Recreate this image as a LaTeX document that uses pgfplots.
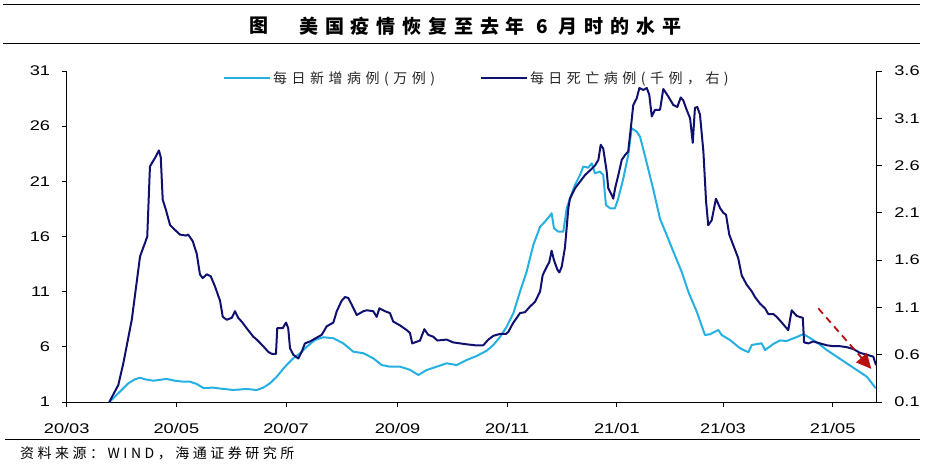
\documentclass[border=0pt]{standalone}
\usepackage{pgfplots}
\pgfplotsset{compat=1.18}
\usetikzlibrary{arrows.meta}
\usepackage{fontspec}
\setmainfont{Liberation Sans}
\newfontfamily\cjk[LetterSpace=25]{Noto Sans CJK SC}
\newfontfamily\cjkleg[LetterSpace=32]{Noto Sans CJK SC}
\newfontfamily\cjktitle[LetterSpace=36]{Noto Sans CJK SC}
\definecolor{lightb}{RGB}{38,176,226}
\definecolor{darkb}{RGB}{16,16,110}
\definecolor{arrred}{RGB}{185,15,15}
\begin{document}
\begin{tikzpicture}
\useasboundingbox (0pt,0pt) rectangle (929pt,475pt);
% title block
\draw[line width=1pt] (3pt,470pt) -- (920pt,470pt);
\draw[line width=1pt] (3pt,431pt) -- (920pt,431pt);
\node[font=\cjktitle\bfseries\fontsize{19}{21}\selectfont, anchor=west, inner sep=0pt] at (249pt,449pt) {图};
\node[font=\cjktitle\bfseries\fontsize{19}{21}\selectfont, anchor=west, inner sep=0pt] at (299pt,449pt) {美国疫情恢复至去年 6 月时的水平};
% source
\draw[line width=1pt] (5pt,36pt) -- (920pt,36pt);
\node[font=\cjk\fontsize{14}{16}\selectfont, anchor=west, inner sep=0pt] at (20pt,22pt) {资料来源：WIND，海通证券研究所};

\pgfplotsset{
  every axis/.append style={
    scale only axis, width=810pt, height=331pt,
    xmin=0, xmax=450.5,
    tick align=outside, major tick length=5pt,
    tick style={black, line width=0.8pt},
    axis line style={black, line width=0.8pt, -},
    tick label style={font=\fontsize{14}{16}\selectfont, xscale=1.3, text=black,
      /pgf/number format/assume math mode=true},
    legend image code/.code={\draw[#1] (0pt,0pt) -- (46pt,0pt);},
    legend style={draw=none, fill=none, inner sep=0pt, anchor=west,
      font=\cjkleg\fontsize{14}{16}\selectfont, text=black!85},
  }
}
\begin{axis}[
  at={(66.7pt,73pt)}, anchor=south west,
  ymin=1, ymax=31,
  axis x line*=bottom, axis y line*=left,
  xtick={0,61,122,184,245,306,365,426},
  xticklabels={20/03,20/05,20/07,20/09,20/11,21/01,21/03,21/05},
  ytick={1,6,11,16,21,26,31},
  yticklabel style={xshift=-5.4pt},
  xticklabel style={yshift=-13pt},
  legend style={at={(0.193,0.979)}},
]
\addplot[lightb, line width=2pt, line join=round] coordinates {
(23.7,1.0)(28.7,1.79)(34.3,2.70)(38.0,3.06)(40.8,3.20)(43.5,3.06)(48.2,2.93)(55.6,3.09)(60.2,2.93)(64.9,2.84)(68.6,2.84)(72.3,2.63)(76.0,2.27)(81.5,2.30)(85.3,2.22)(92.7,2.09)(100.1,2.18)(105.7,2.09)(109.3,2.30)(113.1,2.70)(116.8,3.29)(121.4,4.20)(126.0,4.96)(129.8,5.42)(133.5,6.01)(138.1,6.62)(142.7,6.87)(148.3,6.78)(153.8,6.32)(159.4,5.56)(165.0,5.42)(170.5,4.96)(175.2,4.35)(179.8,4.20)(185.4,4.20)(190.9,3.92)(195.6,3.45)(200.2,3.90)(205.8,4.20)(211.3,4.51)(216.9,4.35)(222.5,4.81)(228.0,5.17)(233.6,5.65)(237.3,6.17)(241.0,6.89)(244.7,7.83)(248.4,9.04)(252.1,11.0)(255.8,12.81)(259.5,15.23)(263.3,16.89)(266.0,17.35)(268.8,17.89)(269.7,18.11)(271.0,16.75)(273.4,16.44)(276.2,16.44)(278.1,18.56)(279.9,19.47)(282.7,20.67)(285.5,21.58)(287.3,22.33)(290.1,22.24)(292.0,22.64)(293.8,21.73)(296.6,21.88)(298.4,21.58)(299.9,18.86)(302.2,18.56)(304.9,18.56)(306.8,19.47)(309.6,21.28)(312.3,23.39)(314.2,25.81)(317.0,25.51)(318.9,25.03)(322.6,22.67)(326.3,20.22)(330.0,17.59)(333.7,16.14)(337.4,14.63)(342.0,12.81)(345.7,11.0)(350.4,9.19)(355.0,7.07)(357.8,7.14)(362.4,7.53)(364.3,7.07)(368.9,6.62)(374.5,5.87)(379.1,5.51)(381.0,6.17)(386.5,6.32)(388.4,5.71)(393.0,6.26)(396.7,6.58)(400.4,6.53)(406.0,6.89)(409.7,7.16)(413.4,6.80)(418.0,6.32)(422.7,5.71)(428.3,5.11)(433.8,4.51)(439.4,3.90)(445.0,3.29)(450.0,2.25)
};
\addlegendentry{每日新增病例(万例)}
\end{axis}
\begin{axis}[
  at={(66.7pt,73pt)}, anchor=south west,
  ymin=0.1, ymax=3.6,
  axis x line=none, axis y line*=right,
  ytick={0.1,0.6,1.1,1.6,2.1,2.6,3.1,3.6},
  yticklabel style={xshift=6.2pt, /pgf/number format/.cd, fixed, fixed zerofill, precision=1},
  legend style={at={(0.510,0.979)}},
]
\addplot[darkb, line width=2pt, line join=round] coordinates {
(23.7,0.10)(28.7,0.28)(31.5,0.51)(36.2,0.97)(40.8,1.64)(43.5,1.78)(44.8,1.85)(46.3,2.59)(47.8,2.64)(49.1,2.68)(51.3,2.76)(52.3,2.69)(53.4,2.24)(55.2,2.13)(57.5,1.97)(60.2,1.92)(63.0,1.87)(66.4,1.86)(67.6,1.87)(70.1,1.80)(72.3,1.67)(74.1,1.45)(75.6,1.41)(77.9,1.45)(80.1,1.43)(82.5,1.32)(85.3,1.17)(86.8,1.00)(89.0,0.97)(91.8,0.99)(93.6,1.06)(95.4,0.99)(97.3,0.95)(100.1,0.88)(103.8,0.79)(105.7,0.76)(109.3,0.69)(112.1,0.63)(114.0,0.61)(116.4,0.61)(117.1,0.88)(120.1,0.88)(122.0,0.94)(123.2,0.88)(124.2,0.67)(126.0,0.60)(128.8,0.56)(130.7,0.63)(132.5,0.72)(135.3,0.74)(138.1,0.77)(141.8,0.81)(144.6,0.90)(148.3,0.94)(150.2,1.06)(152.9,1.17)(154.8,1.21)(156.6,1.20)(158.5,1.13)(161.3,1.02)(165.0,1.06)(166.9,1.07)(170.5,1.06)(172.4,1.00)(173.9,1.09)(177.0,1.06)(179.8,1.04)(181.6,0.95)(185.4,0.91)(189.1,0.86)(190.9,0.83)(192.2,0.72)(196.5,0.75)(198.9,0.87)(201.1,0.81)(203.9,0.79)(206.1,0.75)(211.3,0.76)(215.0,0.73)(218.7,0.72)(222.5,0.71)(227.1,0.70)(231.7,0.70)(234.5,0.76)(237.3,0.80)(241.0,0.82)(244.3,0.82)(245.6,0.84)(248.1,0.93)(250.3,0.99)(252.1,1.04)(254.9,1.05)(257.7,1.11)(260.5,1.16)(263.3,1.27)(264.7,1.44)(267.0,1.53)(268.4,1.58)(269.7,1.70)(271.0,1.60)(272.9,1.50)(274.0,1.47)(275.3,1.53)(277.1,1.73)(279.0,2.15)(279.9,2.25)(282.7,2.36)(285.5,2.43)(288.3,2.50)(291.1,2.55)(293.8,2.60)(295.7,2.66)(297.0,2.82)(298.4,2.78)(300.3,2.54)(301.2,2.36)(303.1,2.29)(304.0,2.25)(305.0,2.36)(306.8,2.50)(308.7,2.66)(310.5,2.71)(312.3,2.75)(313.7,2.99)(315.1,3.24)(317.0,3.31)(318.5,3.42)(320.7,3.40)(322.6,3.42)(324.0,3.35)(325.4,3.12)(327.2,3.19)(330.0,3.19)(331.8,3.41)(334.6,3.33)(337.4,3.24)(339.6,3.22)(341.5,3.32)(342.9,3.29)(344.8,3.19)(346.7,3.10)(348.2,2.84)(349.4,3.21)(350.7,3.22)(352.2,3.14)(354.1,2.75)(355.6,2.22)(356.8,1.97)(358.7,2.02)(361.1,2.25)(363.4,2.15)(365.2,2.10)(366.7,2.08)(368.5,1.87)(370.7,1.76)(373.5,1.62)(375.4,1.44)(378.2,1.34)(381.0,1.27)(382.8,1.21)(385.6,1.14)(388.4,1.09)(390.2,1.03)(393.0,1.03)(394.9,1.00)(397.7,0.94)(401.3,0.86)(403.2,1.07)(406.0,1.01)(409.4,0.99)(410.1,0.73)(412.5,0.72)(415.2,0.74)(418.9,0.72)(422.7,0.70)(426.4,0.69)(430.1,0.69)(433.8,0.68)(437.5,0.66)(441.2,0.62)(444.9,0.60)(448.6,0.58)(450.1,0.49)
};
\addlegendentry{每日死亡病例(千例，右)}
\draw[arrred, line width=1.8pt, dash pattern=on 7pt off 5pt, -{Triangle[length=15pt,width=14pt]}] (axis cs:418,1.09) -- (axis cs:447.5,0.45);
\end{axis}
\end{tikzpicture}
\end{document}
